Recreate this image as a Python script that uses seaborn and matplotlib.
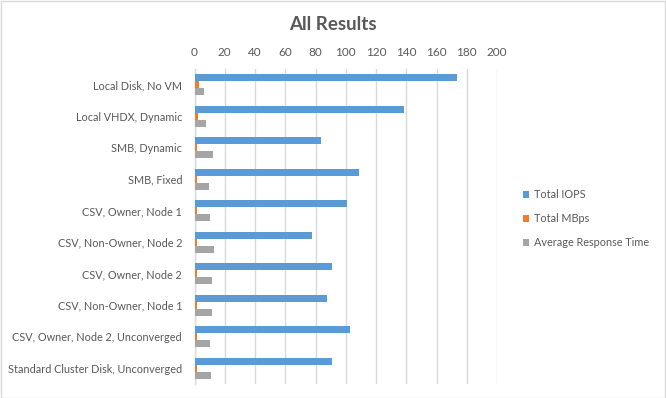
import matplotlib
matplotlib.use("Agg")
import matplotlib.pyplot as plt
import seaborn as sns
import pandas as pd
from matplotlib.patches import Rectangle

categories = [
    "Local Disk, No VM",
    "Local VHDX, Dynamic",
    "SMB, Dynamic",
    "SMB, Fixed",
    "CSV, Owner, Node 1",
    "CSV, Non-Owner, Node 2",
    "CSV, Owner, Node 2",
    "CSV, Non-Owner, Node 1",
    "CSV, Owner, Node 2, Unconverged",
    "Standard Cluster Disk, Unconverged",
]
total_iops = [173.5, 138.5, 83.5, 109.0, 101.0, 78.0, 90.7, 87.4, 102.6, 90.7]
total_mbps = [2.7, 2.1, 1.4, 1.4, 1.4, 1.4, 1.4, 1.4, 1.4, 1.4]
avg_resp = [6.0, 7.3, 12.0, 9.3, 10.0, 12.6, 11.3, 11.3, 10.0, 10.6]
series_names = ["Total IOPS", "Total MBps", "Average Response Time"]
colors = ["#5B9BD5", "#ED7D31", "#A5A5A5"]
x_ticks = [0, 20, 40, 60, 80, 100, 120, 140, 160, 180, 200]

rows = []
for s, vals in zip(series_names, [total_iops, total_mbps, avg_resp]):
    for c, v in zip(categories, vals):
        rows.append({"cat": c, "series": s, "value": v})
df = pd.DataFrame(rows)

sns.set_theme(style="white")
plt.rcParams["font.family"] = ["Lato", "DejaVu Sans"]
text_color = "#595959"

fig = plt.figure(figsize=(6.66, 3.98), dpi=100)
ax = fig.add_axes([194.5 / 666, 1 - 384 / 398, (497 - 194.5) / 666, (384 - 69) / 398])

sns.barplot(data=df, y="cat", x="value", hue="series", order=categories,
            hue_order=series_names, palette=colors, orient="h", width=0.66,
            ax=ax, legend=True, saturation=1, errorbar=None, linewidth=0)

ax.set_xlim(0, 200)
ax.set_ylim(len(categories) - 0.5, -0.5)
ax.set_xticks(x_ticks)
ax.xaxis.tick_top()
ax.xaxis.set_label_position("top")
ax.tick_params(axis="x", length=0, pad=8, labelsize=8.5, labelcolor=text_color)
ax.tick_params(axis="y", length=0, pad=9, labelsize=7.8, labelcolor=text_color)
ax.set_xlabel("")
ax.set_ylabel("")
ax.grid(axis="x", color="#D9D9D9", linewidth=1)
ax.set_axisbelow(True)
for sp in ["top", "right", "bottom"]:
    ax.spines[sp].set_visible(False)
ax.spines["left"].set_color("#D9D9D9")
ax.spines["left"].set_linewidth(1)
ax.spines["left"].set_zorder(0.5)

handles, labels = ax.get_legend_handles_labels()
ax.legend(handles, labels, loc="center left", bbox_to_anchor=(1.07, 0.525),
          frameon=False, fontsize=7.8, labelcolor=text_color,
          handlelength=0.6, handleheight=0.6, handletextpad=0.5,
          labelspacing=1.2, borderaxespad=0)

fig.text(0.5, 1 - 24 / 398, "All Results", ha="center", va="center",
         fontsize=13.5, fontweight="bold", color=text_color)

fig.patches.append(Rectangle((0.001, 0.001), 0.997, 0.997, transform=fig.transFigure,
                             fill=False, edgecolor="#D9D9D9", linewidth=1))

fig.savefig("out.png", dpi=100)
